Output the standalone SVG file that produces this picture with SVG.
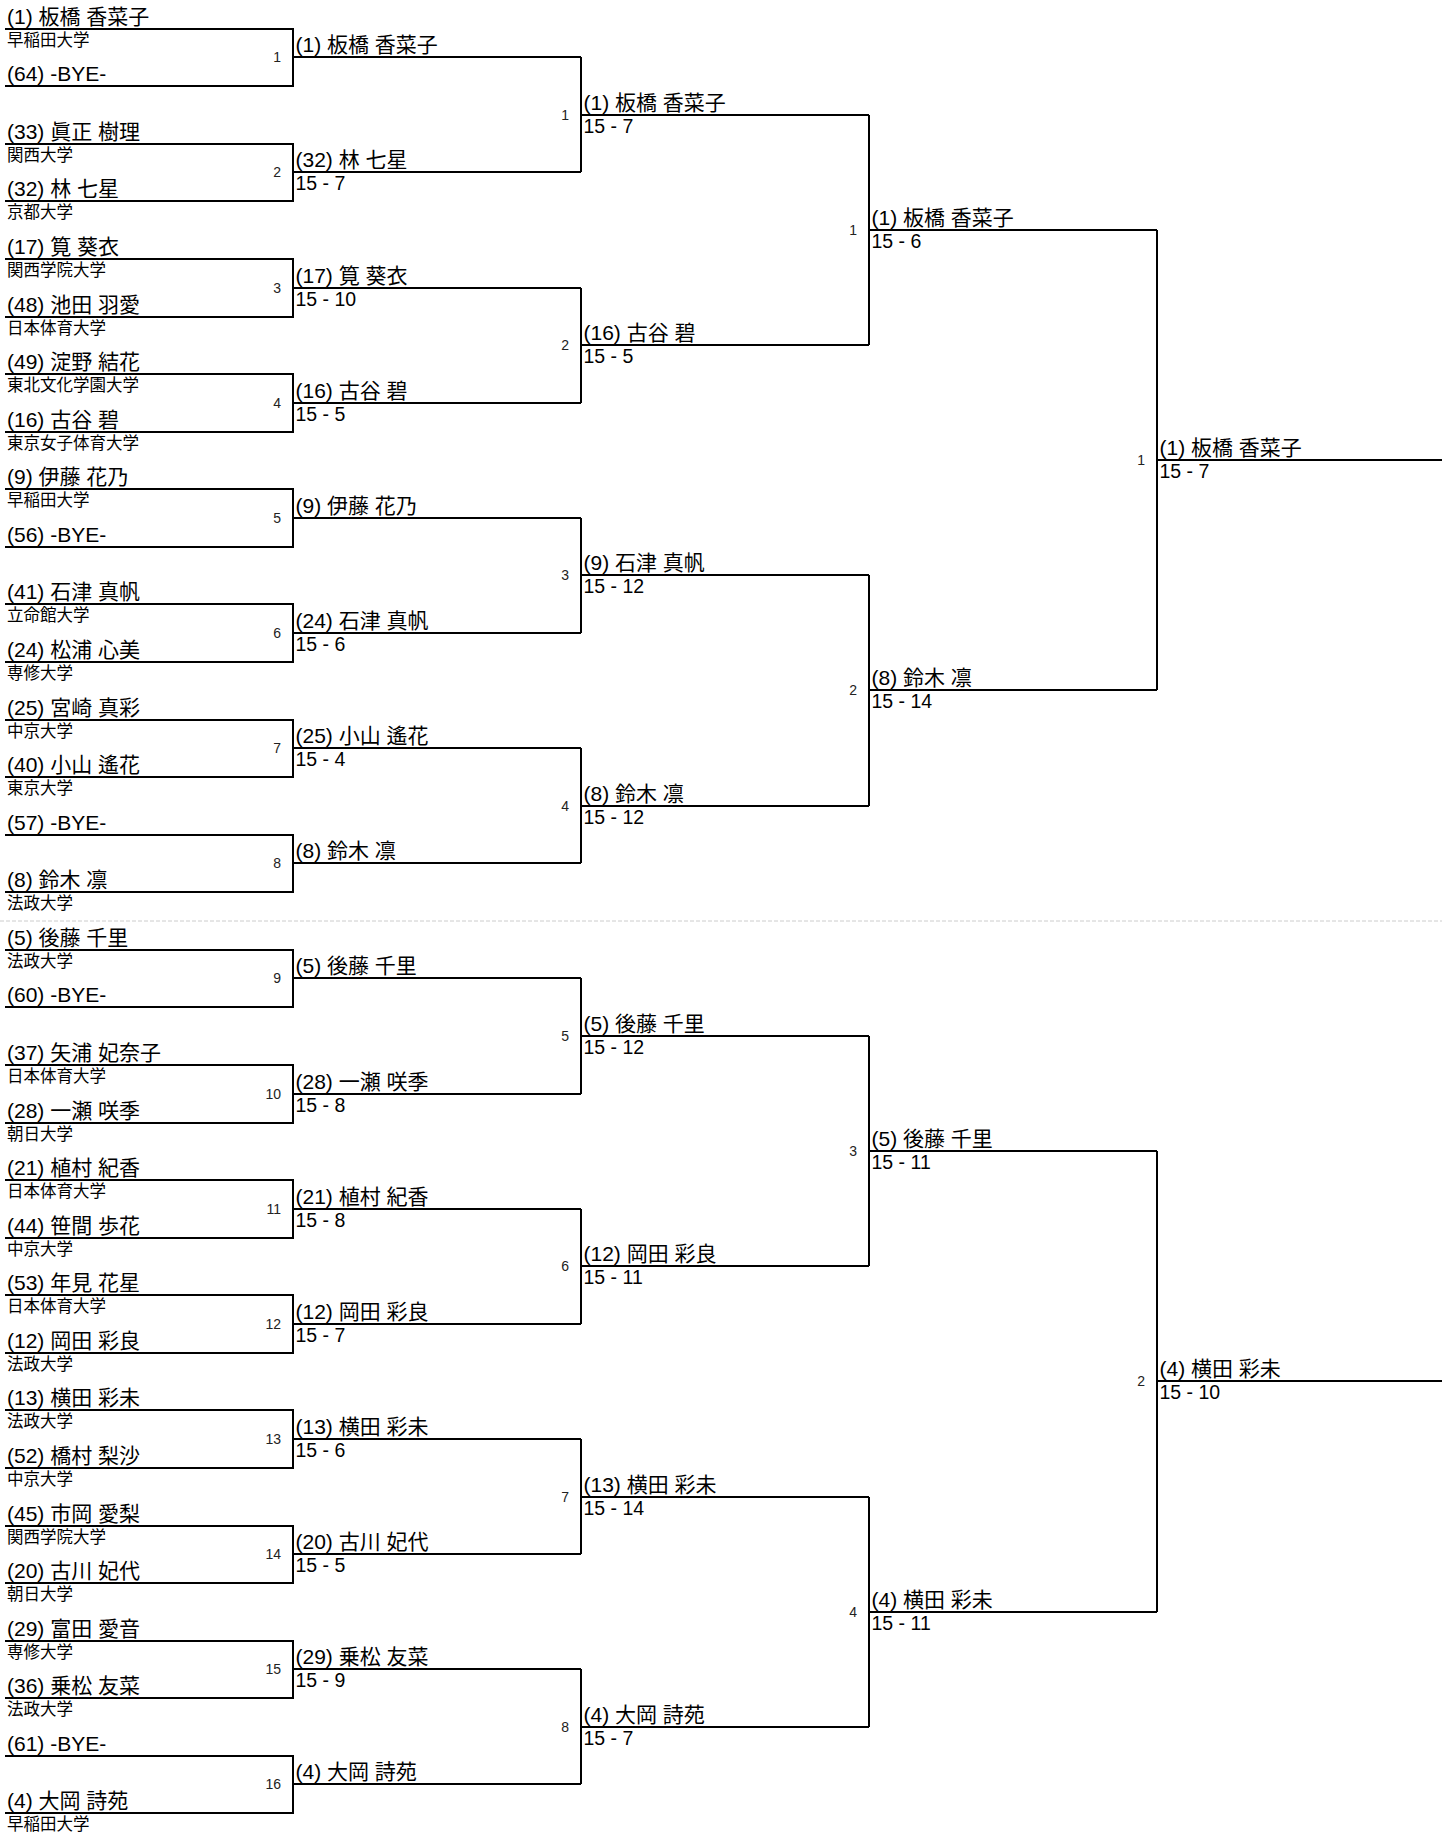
<svg xmlns="http://www.w3.org/2000/svg" width="1442" height="1836" viewBox="0 0 1442 1836">
<style>
text{font-family:"Liberation Sans","Noto Sans CJK JP",sans-serif;fill:#000}
.n{font-size:21px}
.u{font-size:16.5px}
.s{font-size:19.5px}
.m{font-size:14px;text-anchor:end;fill:#222}
.ln{fill:none;stroke:#000;stroke-width:2}
.sep{stroke:#ccc;stroke-width:1;stroke-dasharray:4 2}
</style>
<rect width="1442" height="1836" fill="#fff"/>
<line class="sep" x1="0" y1="921" x2="1442" y2="921"/>
<g id="connectors" class="ln">
<path d="M5 29H293V86H5M293 57H581"/>
<path d="M5 144H293V201H5M293 172H581"/>
<path d="M5 259H293V317H5M293 288H581"/>
<path d="M5 374H293V432H5M293 403H581"/>
<path d="M5 489H293V547H5M293 518H581"/>
<path d="M5 604H293V662H5M293 633H581"/>
<path d="M5 720H293V777H5M293 748H581"/>
<path d="M5 835H293V892H5M293 863H581"/>
<path d="M5 950H293V1007H5M293 978H581"/>
<path d="M5 1065H293V1123H5M293 1094H581"/>
<path d="M5 1180H293V1238H5M293 1209H581"/>
<path d="M5 1295H293V1353H5M293 1324H581"/>
<path d="M5 1410H293V1468H5M293 1439H581"/>
<path d="M5 1526H293V1583H5M293 1554H581"/>
<path d="M5 1641H293V1698H5M293 1669H581"/>
<path d="M5 1756H293V1813H5M293 1784H581"/>
<path d="M581 57V172M581 115H869"/>
<path d="M581 288V403M581 345H869"/>
<path d="M581 518V633M581 575H869"/>
<path d="M581 748V863M581 806H869"/>
<path d="M581 978V1094M581 1036H869"/>
<path d="M581 1209V1324M581 1266H869"/>
<path d="M581 1439V1554M581 1497H869"/>
<path d="M581 1669V1784M581 1727H869"/>
<path d="M869 115V345M869 230H1157"/>
<path d="M869 575V806M869 690H1157"/>
<path d="M869 1036V1266M869 1151H1157"/>
<path d="M869 1497V1727M869 1612H1157"/>
<path d="M1157 230V690M1157 460H1442"/>
<path d="M1157 1151V1612M1157 1381H1442"/>
</g>
<g id="round1">
<g id="e1"><text class="n" x="7" y="24">(1) 板橋 香菜子</text><text class="u" x="7" y="46">早稲田大学</text></g>
<g id="e2"><text class="n" x="7" y="81">(64) -BYE-</text></g>
<g id="e3"><text class="n" x="7" y="139">(33) 眞正 樹理</text><text class="u" x="7" y="161">関西大学</text></g>
<g id="e4"><text class="n" x="7" y="196">(32) 林 七星</text><text class="u" x="7" y="218">京都大学</text></g>
<g id="e5"><text class="n" x="7" y="254">(17) 筧 葵衣</text><text class="u" x="7" y="276">関西学院大学</text></g>
<g id="e6"><text class="n" x="7" y="312">(48) 池田 羽愛</text><text class="u" x="7" y="334">日本体育大学</text></g>
<g id="e7"><text class="n" x="7" y="369">(49) 淀野 結花</text><text class="u" x="7" y="391">東北文化学園大学</text></g>
<g id="e8"><text class="n" x="7" y="427">(16) 古谷 碧</text><text class="u" x="7" y="449">東京女子体育大学</text></g>
<g id="e9"><text class="n" x="7" y="484">(9) 伊藤 花乃</text><text class="u" x="7" y="506">早稲田大学</text></g>
<g id="e10"><text class="n" x="7" y="542">(56) -BYE-</text></g>
<g id="e11"><text class="n" x="7" y="599">(41) 石津 真帆</text><text class="u" x="7" y="621">立命館大学</text></g>
<g id="e12"><text class="n" x="7" y="657">(24) 松浦 心美</text><text class="u" x="7" y="679">専修大学</text></g>
<g id="e13"><text class="n" x="7" y="715">(25) 宮崎 真彩</text><text class="u" x="7" y="737">中京大学</text></g>
<g id="e14"><text class="n" x="7" y="772">(40) 小山 遙花</text><text class="u" x="7" y="794">東京大学</text></g>
<g id="e15"><text class="n" x="7" y="830">(57) -BYE-</text></g>
<g id="e16"><text class="n" x="7" y="887">(8) 鈴木 凛</text><text class="u" x="7" y="909">法政大学</text></g>
<g id="e17"><text class="n" x="7" y="945">(5) 後藤 千里</text><text class="u" x="7" y="967">法政大学</text></g>
<g id="e18"><text class="n" x="7" y="1002">(60) -BYE-</text></g>
<g id="e19"><text class="n" x="7" y="1060">(37) 矢浦 妃奈子</text><text class="u" x="7" y="1082">日本体育大学</text></g>
<g id="e20"><text class="n" x="7" y="1118">(28) 一瀬 咲季</text><text class="u" x="7" y="1140">朝日大学</text></g>
<g id="e21"><text class="n" x="7" y="1175">(21) 植村 紀香</text><text class="u" x="7" y="1197">日本体育大学</text></g>
<g id="e22"><text class="n" x="7" y="1233">(44) 笹間 歩花</text><text class="u" x="7" y="1255">中京大学</text></g>
<g id="e23"><text class="n" x="7" y="1290">(53) 年見 花星</text><text class="u" x="7" y="1312">日本体育大学</text></g>
<g id="e24"><text class="n" x="7" y="1348">(12) 岡田 彩良</text><text class="u" x="7" y="1370">法政大学</text></g>
<g id="e25"><text class="n" x="7" y="1405">(13) 横田 彩未</text><text class="u" x="7" y="1427">法政大学</text></g>
<g id="e26"><text class="n" x="7" y="1463">(52) 橋村 梨沙</text><text class="u" x="7" y="1485">中京大学</text></g>
<g id="e27"><text class="n" x="7" y="1521">(45) 市岡 愛梨</text><text class="u" x="7" y="1543">関西学院大学</text></g>
<g id="e28"><text class="n" x="7" y="1578">(20) 古川 妃代</text><text class="u" x="7" y="1600">朝日大学</text></g>
<g id="e29"><text class="n" x="7" y="1636">(29) 富田 愛音</text><text class="u" x="7" y="1658">専修大学</text></g>
<g id="e30"><text class="n" x="7" y="1693">(36) 乗松 友菜</text><text class="u" x="7" y="1715">法政大学</text></g>
<g id="e31"><text class="n" x="7" y="1751">(61) -BYE-</text></g>
<g id="e32"><text class="n" x="7" y="1808">(4) 大岡 詩苑</text><text class="u" x="7" y="1830">早稲田大学</text></g>
</g>
<g id="round2">
<g id="r2-1"><text class="m" x="281" y="62">1</text><text class="n" x="295.5" y="52">(1) 板橋 香菜子</text></g>
<g id="r2-2"><text class="m" x="281" y="177">2</text><text class="n" x="295.5" y="167">(32) 林 七星</text><text class="s" x="295.5" y="190">15 - 7</text></g>
<g id="r2-3"><text class="m" x="281" y="293">3</text><text class="n" x="295.5" y="283">(17) 筧 葵衣</text><text class="s" x="295.5" y="306">15 - 10</text></g>
<g id="r2-4"><text class="m" x="281" y="408">4</text><text class="n" x="295.5" y="398">(16) 古谷 碧</text><text class="s" x="295.5" y="421">15 - 5</text></g>
<g id="r2-5"><text class="m" x="281" y="523">5</text><text class="n" x="295.5" y="513">(9) 伊藤 花乃</text></g>
<g id="r2-6"><text class="m" x="281" y="638">6</text><text class="n" x="295.5" y="628">(24) 石津 真帆</text><text class="s" x="295.5" y="651">15 - 6</text></g>
<g id="r2-7"><text class="m" x="281" y="753">7</text><text class="n" x="295.5" y="743">(25) 小山 遙花</text><text class="s" x="295.5" y="766">15 - 4</text></g>
<g id="r2-8"><text class="m" x="281" y="868">8</text><text class="n" x="295.5" y="858">(8) 鈴木 凛</text></g>
<g id="r2-9"><text class="m" x="281" y="983">9</text><text class="n" x="295.5" y="973">(5) 後藤 千里</text></g>
<g id="r2-10"><text class="m" x="281" y="1099">10</text><text class="n" x="295.5" y="1089">(28) 一瀬 咲季</text><text class="s" x="295.5" y="1112">15 - 8</text></g>
<g id="r2-11"><text class="m" x="281" y="1214">11</text><text class="n" x="295.5" y="1204">(21) 植村 紀香</text><text class="s" x="295.5" y="1227">15 - 8</text></g>
<g id="r2-12"><text class="m" x="281" y="1329">12</text><text class="n" x="295.5" y="1319">(12) 岡田 彩良</text><text class="s" x="295.5" y="1342">15 - 7</text></g>
<g id="r2-13"><text class="m" x="281" y="1444">13</text><text class="n" x="295.5" y="1434">(13) 横田 彩未</text><text class="s" x="295.5" y="1457">15 - 6</text></g>
<g id="r2-14"><text class="m" x="281" y="1559">14</text><text class="n" x="295.5" y="1549">(20) 古川 妃代</text><text class="s" x="295.5" y="1572">15 - 5</text></g>
<g id="r2-15"><text class="m" x="281" y="1674">15</text><text class="n" x="295.5" y="1664">(29) 乗松 友菜</text><text class="s" x="295.5" y="1687">15 - 9</text></g>
<g id="r2-16"><text class="m" x="281" y="1789">16</text><text class="n" x="295.5" y="1779">(4) 大岡 詩苑</text></g>
</g>
<g id="round3">
<g id="r3-1"><text class="m" x="569" y="120">1</text><text class="n" x="583.5" y="110">(1) 板橋 香菜子</text><text class="s" x="583.5" y="133">15 - 7</text></g>
<g id="r3-2"><text class="m" x="569" y="350">2</text><text class="n" x="583.5" y="340">(16) 古谷 碧</text><text class="s" x="583.5" y="363">15 - 5</text></g>
<g id="r3-3"><text class="m" x="569" y="580">3</text><text class="n" x="583.5" y="570">(9) 石津 真帆</text><text class="s" x="583.5" y="593">15 - 12</text></g>
<g id="r3-4"><text class="m" x="569" y="811">4</text><text class="n" x="583.5" y="801">(8) 鈴木 凛</text><text class="s" x="583.5" y="824">15 - 12</text></g>
<g id="r3-5"><text class="m" x="569" y="1041">5</text><text class="n" x="583.5" y="1031">(5) 後藤 千里</text><text class="s" x="583.5" y="1054">15 - 12</text></g>
<g id="r3-6"><text class="m" x="569" y="1271">6</text><text class="n" x="583.5" y="1261">(12) 岡田 彩良</text><text class="s" x="583.5" y="1284">15 - 11</text></g>
<g id="r3-7"><text class="m" x="569" y="1502">7</text><text class="n" x="583.5" y="1492">(13) 横田 彩未</text><text class="s" x="583.5" y="1515">15 - 14</text></g>
<g id="r3-8"><text class="m" x="569" y="1732">8</text><text class="n" x="583.5" y="1722">(4) 大岡 詩苑</text><text class="s" x="583.5" y="1745">15 - 7</text></g>
</g>
<g id="round4">
<g id="r4-1"><text class="m" x="857" y="235">1</text><text class="n" x="871.5" y="225">(1) 板橋 香菜子</text><text class="s" x="871.5" y="248">15 - 6</text></g>
<g id="r4-2"><text class="m" x="857" y="695">2</text><text class="n" x="871.5" y="685">(8) 鈴木 凛</text><text class="s" x="871.5" y="708">15 - 14</text></g>
<g id="r4-3"><text class="m" x="857" y="1156">3</text><text class="n" x="871.5" y="1146">(5) 後藤 千里</text><text class="s" x="871.5" y="1169">15 - 11</text></g>
<g id="r4-4"><text class="m" x="857" y="1617">4</text><text class="n" x="871.5" y="1607">(4) 横田 彩未</text><text class="s" x="871.5" y="1630">15 - 11</text></g>
</g>
<g id="round5">
<g id="r5-1"><text class="m" x="1145" y="465">1</text><text class="n" x="1159.5" y="455">(1) 板橋 香菜子</text><text class="s" x="1159.5" y="478">15 - 7</text></g>
<g id="r5-2"><text class="m" x="1145" y="1386">2</text><text class="n" x="1159.5" y="1376">(4) 横田 彩未</text><text class="s" x="1159.5" y="1399">15 - 10</text></g>
</g>
</svg>
